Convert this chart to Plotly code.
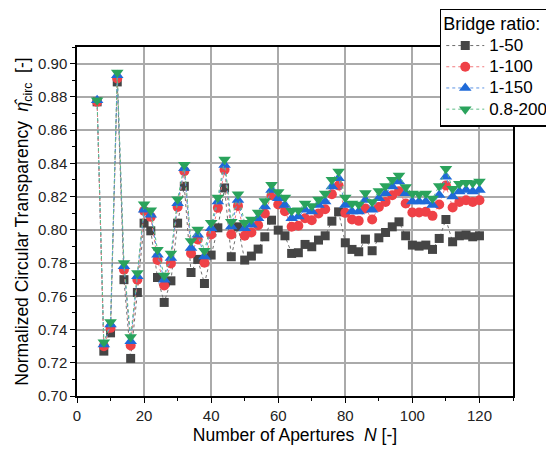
import plotly.graph_objects as go

N = list(range(6, 121, 2))

eta_1_50 = [0.877, 0.727, 0.738, 0.889, 0.770, 0.7226, 0.7623, 0.804, 0.7994, 0.7713,
            0.7563, 0.7693, 0.804, 0.8262, 0.7743, 0.7822, 0.7677, 0.7848, 0.8012, 0.8252,
            0.7838, 0.8018, 0.7818, 0.7842, 0.7884, 0.7958, 0.8058, 0.7998, 0.7964, 0.7858,
            0.7862, 0.7912, 0.7898, 0.7938, 0.7964, 0.8052, 0.8108, 0.7922, 0.7882, 0.7868,
            0.7944, 0.7874, 0.7952, 0.7984, 0.8018, 0.8048, 0.7964, 0.7908, 0.7902, 0.7908,
            0.7882, 0.7948, 0.8062, 0.7928, 0.7964, 0.7968, 0.7958, 0.7964]
eta_1_100 = [0.877, 0.730, 0.741, 0.891, 0.776, 0.7304, 0.770, 0.8114, 0.8078, 0.7818,
             0.7665, 0.7798, 0.8138, 0.8353, 0.7858, 0.7942, 0.7802, 0.7972, 0.8132, 0.8361,
             0.7972, 0.8144, 0.7964, 0.7984, 0.8028, 0.8098, 0.8208, 0.8152, 0.8112, 0.8018,
             0.8024, 0.807, 0.8058, 0.8098, 0.8124, 0.8214, 0.8267, 0.8102, 0.8062, 0.8054,
             0.8128, 0.8062, 0.8138, 0.8168, 0.8208, 0.8232, 0.8158, 0.8104, 0.8104, 0.8108,
             0.8084, 0.8152, 0.8267, 0.8134, 0.8168, 0.8178, 0.8168, 0.8178]
eta_1_150 = [0.878, 0.731, 0.743, 0.893, 0.778, 0.733, 0.772, 0.812, 0.809, 0.785,
             0.770, 0.783, 0.816, 0.837, 0.789, 0.797, 0.784, 0.801, 0.817, 0.839,
             0.802, 0.818, 0.801, 0.803, 0.807, 0.814, 0.824, 0.819, 0.815, 0.807,
             0.808, 0.812, 0.811, 0.815, 0.817, 0.826, 0.831, 0.815, 0.811, 0.811,
             0.818, 0.812, 0.819, 0.822, 0.826, 0.829, 0.822, 0.817, 0.817, 0.817,
             0.815, 0.821, 0.832, 0.820, 0.823, 0.824, 0.823, 0.824]
eta_08_200 = [0.878, 0.7323, 0.7445, 0.8946, 0.780, 0.7355, 0.774, 0.8154, 0.8118, 0.788,
              0.7725, 0.7858, 0.8184, 0.8391, 0.7932, 0.8002, 0.7874, 0.8042, 0.8194, 0.8423,
              0.8048, 0.8214, 0.8042, 0.8062, 0.8104, 0.8174, 0.8271, 0.8228, 0.8194, 0.8114,
              0.8118, 0.8158, 0.8144, 0.8182, 0.8218, 0.8301, 0.8351, 0.8194, 0.8158, 0.8152,
              0.8222, 0.8168, 0.8234, 0.8264, 0.8301, 0.8327, 0.8258, 0.8218, 0.8214, 0.8218,
              0.8188, 0.8264, 0.8367, 0.8247, 0.8277, 0.8283, 0.8281, 0.8291]

series_names = ["1-50", "1-100", "1-150", "0.8-200"]
series_vals = [eta_1_50, eta_1_100, eta_1_150, eta_08_200]
colors = ["#454545", "#ef4147", "#1f6ad8", "#2aa35c"]
line_colors = ["#6e6e6e", "#f27a7e", "#5c93e3", "#5cbd84"]
symbols = ["square", "circle", "triangle-up", "triangle-down"]
sizes = [9, 10, 11, 11]

FONT = "Liberation Sans, Arial, sans-serif"

fig = go.Figure()
for name, vals, c, lc, s, sz in zip(series_names, series_vals, colors, line_colors, symbols, sizes):
    fig.add_trace(go.Scatter(
        x=N, y=vals, name='<span style="font-size:17px">' + name + '</span>',
        mode="lines+markers",
        line=dict(color=lc, width=1, dash="dot"),
        marker=dict(symbol=s, size=sz, color=c, line=dict(width=0)),
    ))

fig.update_layout(
    width=546, height=456,
    margin=dict(l=77, r=33, t=47, b=60, autoexpand=False),
    plot_bgcolor="white", paper_bgcolor="white",
    font=dict(family=FONT, size=15, color="black"),
    showlegend=True,
    legend=dict(
        x=0.832, y=1.109, xanchor="left", yanchor="top",
        bgcolor="white", bordercolor="black", borderwidth=1.5,
        font=dict(size=14, family=FONT),
        title=dict(text='<span style="font-size:18px">Bridge ratio:</span>',
                   font=dict(size=15, family=FONT)),
        tracegroupgap=0, itemwidth=38,
    ),
    xaxis=dict(
        range=[0, 130], tickmode="linear", tick0=0, dtick=20,
        ticks="outside", ticklen=5, tickwidth=1.2, tickcolor="black",
        showline=True, linecolor="black", linewidth=1.5, mirror=True,
        showgrid=True, gridcolor="#aaaaaa", gridwidth=1.5,
        zeroline=False,
        minor=dict(dtick=10, ticks="outside", ticklen=3, tickcolor="black", showgrid=False),
        tickfont=dict(size=15, color="#222"),
        title=dict(text="Number of Apertures  <i>N</i> [-]", font=dict(size=17.5), standoff=6),
    ),
    yaxis=dict(
        range=[0.70, 0.91], tickmode="linear", tick0=0.70, dtick=0.02, tickformat=".2f",
        ticks="outside", ticklen=5, tickwidth=1.2, tickcolor="black",
        showline=True, linecolor="black", linewidth=1.5, mirror=True,
        showgrid=True, gridcolor="#aaaaaa", gridwidth=1.5,
        zeroline=False,
        minor=dict(dtick=0.01, ticks="outside", ticklen=3, tickcolor="black", showgrid=False),
        tickfont=dict(size=15, color="#222"),
        title=dict(text="Normalized Circular Transparency  <i>η\u0302</i><sub>circ</sub>  [-]",
                   font=dict(size=17.5), standoff=5),
    ),
    xaxis2=dict(
        overlaying="x", side="top", range=[0, 130], tickmode="linear", tick0=0, dtick=20,
        ticks="inside", ticklen=5, tickcolor="black", showticklabels=False,
        showgrid=False, zeroline=False, showline=False,
        minor=dict(dtick=10, ticks="inside", ticklen=3, tickcolor="black", showgrid=False),
    ),
    yaxis2=dict(
        overlaying="y", side="right", range=[0.70, 0.91], tickmode="linear", tick0=0.70, dtick=0.02,
        ticks="inside", ticklen=5, tickcolor="black", showticklabels=False,
        showgrid=False, zeroline=False, showline=False,
        minor=dict(dtick=0.01, ticks="inside", ticklen=3, tickcolor="black", showgrid=False),
    ),
)

fig.write_html("out.html")
